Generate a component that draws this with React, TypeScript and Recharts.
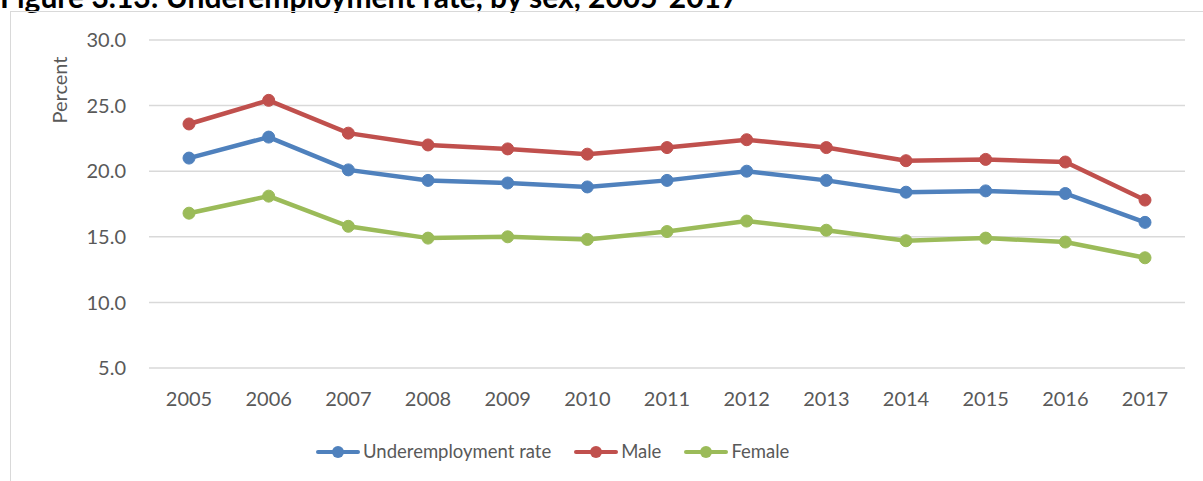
import { LineChart, Line, XAxis, YAxis, CartesianGrid, Legend } from 'recharts';

const years = ['2005', '2006', '2007', '2008', '2009', '2010', '2011', '2012', '2013', '2014', '2015', '2016', '2017'];
const underemployment = [21.0, 22.6, 20.1, 19.3, 19.1, 18.8, 19.3, 20.0, 19.3, 18.4, 18.5, 18.3, 16.1];
const male = [23.6, 25.4, 22.9, 22.0, 21.7, 21.3, 21.8, 22.4, 21.8, 20.8, 20.9, 20.7, 17.8];
const female = [16.8, 18.1, 15.8, 14.9, 15.0, 14.8, 15.4, 16.2, 15.5, 14.7, 14.9, 14.6, 13.4];
const yTicks = [5, 10, 15, 20, 25, 30];

const FONT = 'Lato, "Open Sans", sans-serif';
const TEXT = '#595959';

const series = [
  { key: 'rate', name: 'Underemployment rate', color: '#4F81BD' },
  { key: 'male', name: 'Male', color: '#C0504D' },
  { key: 'female', name: 'Female', color: '#9BBB59' }
];

const data = years.map((year, i) => ({
  year,
  rate: underemployment[i],
  male: male[i],
  female: female[i]
}));

function LegendContent() {
  return (
    <div style={{ display: 'flex', alignItems: 'center', fontFamily: FONT, fontSize: 18.5, lineHeight: '23px', color: TEXT }}>
      {series.map((s) => (
        <div key={s.key} style={{ display: 'flex', alignItems: 'center', marginRight: 22 }}>
          <svg width={46} height={14} style={{ marginRight: 2 }}>
            <line x1={3} y1={7} x2={43} y2={7} stroke={s.color} strokeWidth={4} strokeLinecap="round" />
            <circle cx={23} cy={7} r={6} fill={s.color} />
          </svg>
          <span>{s.name}</span>
        </div>
      ))}
    </div>
  );
}

export default function App() {
  return (
    <div style={{ position: 'absolute', left: 0, top: 0, width: 1203, height: 481, overflow: 'hidden', background: '#fff' }}>
      {/* title is clipped by the top edge, as in the source image */}
      <div
        style={{
          position: 'absolute', left: 0, top: -19, fontFamily: FONT, fontWeight: 700,
          fontSize: 30, lineHeight: '30px', color: '#000', whiteSpace: 'nowrap'
        }}
      >
        Figure 3.13: Underemployment rate, by sex, 2005-2017
      </div>
      <div
        style={{
          position: 'absolute', left: 10, top: 11, width: 1193, height: 470,
          borderLeft: '1.5px solid #d9d9d9', borderTop: '1.5px solid #d9d9d9'
        }}
      />
      <div
        style={{
          position: 'absolute', left: 59, top: 90, transform: 'translate(-50%, -50%) rotate(-90deg)',
          fontFamily: FONT, fontSize: 20, color: TEXT, whiteSpace: 'nowrap'
        }}
      >
        Percent
      </div>
      <div style={{ position: 'absolute', left: 0, top: 0 }}>
        <LineChart width={1203} height={481} data={data} margin={{ top: 40, right: 18, left: 0, bottom: 60 }}>
          <CartesianGrid vertical={false} stroke="#d9d9d9" strokeWidth={1.5} />
          <XAxis
            dataKey="year"
            height={30}
            axisLine={false}
            tickLine={false}
            tickMargin={18}
            padding={{ left: 40, right: 40 }}
            tick={{ fill: TEXT, fontSize: 20, fontFamily: FONT }}
            interval={0}
          />
          <YAxis
            width={149}
            domain={[5, 30]}
            ticks={yTicks}
            axisLine={false}
            tickLine={false}
            tickMargin={17}
            tickFormatter={(v: number) => v.toFixed(1)}
            tick={{ fill: TEXT, fontSize: 20, fontFamily: FONT }}
          />
          <Legend
            content={<LegendContent />}
            wrapperStyle={{ position: 'absolute', left: 315, top: 440, width: 'auto' }}
          />
          {series.map((s) => (
            <Line
              key={s.key}
              dataKey={s.key}
              name={s.name}
              stroke={s.color}
              strokeWidth={4.5}
              dot={{ r: 6, fill: s.color, stroke: s.color, strokeWidth: 1 }}
              activeDot={false}
              isAnimationActive={false}
            />
          ))}
        </LineChart>
      </div>
    </div>
  );
}
